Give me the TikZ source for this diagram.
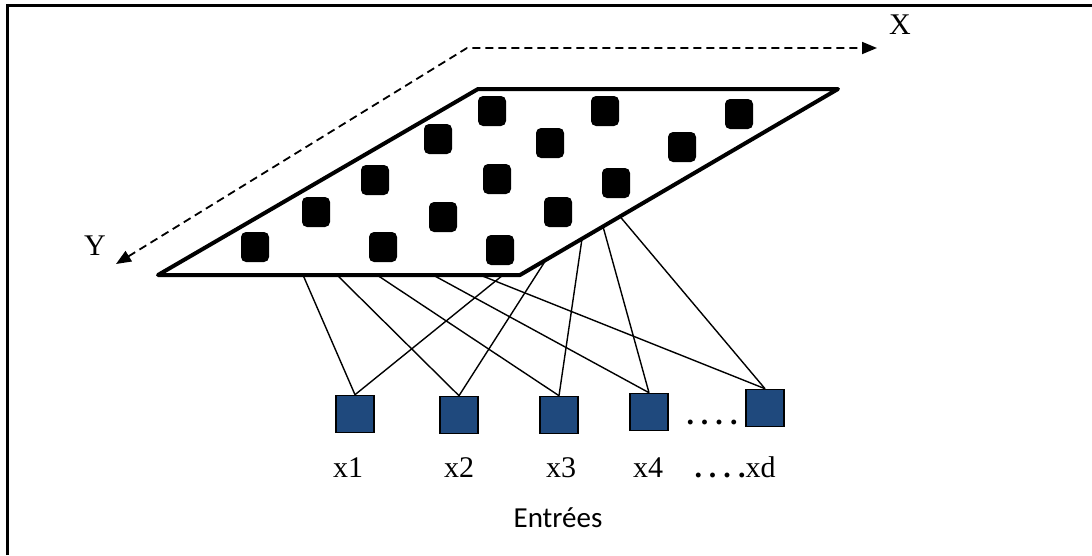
\documentclass[tikz,border=0pt]{standalone}
\usepackage{fontspec}
\setmainfont{Liberation Serif}
\newfontfamily\entreefont{Carlito}
\usetikzlibrary{arrows.meta}
\definecolor{darkblue}{RGB}{31, 73, 125}

\newcommand{\pointilles}{\textbf{.\kern7pt.\kern7pt.\kern7pt.}}

\begin{document}
\begin{tikzpicture}[x=1pt,y=-1pt,
        neuron/.style={fill=black, rounded corners=5pt, minimum width=28pt, minimum height=30pt, inner sep=0pt},
        entree/.style={draw=black, line width=1.6pt, fill=darkblue, minimum width=38pt, minimum height=37pt, inner sep=0pt},
        lbl/.style={font=\fontsize{30}{34}\selectfont, inner sep=0pt, anchor=base},
        link/.style={line width=1.4pt},
        axe/.style={line width=1.8pt, dash pattern=on 8pt off 5pt,
            {Triangle[length=15pt,width=12pt]}-{Triangle[length=15pt,width=12pt]}}]
    \useasboundingbox (0,0) rectangle (1092,555);

    % frame
    \draw[line width=3pt] (7,555) -- (7,5) -- (1092,5);

    % axes of the map
    \draw[axe] (116,264) -- (467,48) -- (877,48);
    \node[lbl, anchor=center] (X) at (900,25) {X};
    \node[lbl, anchor=center] (Y) at (95,246) {Y};

    % the map
    \draw[line width=4pt, fill=white, line join=round] (158,275) -- (520,275) -- (838,89) -- (478,89) -- cycle;

    \node[neuron] (n1) at (255,247) {};
    \node[neuron] (n2) at (316,212) {};
    \node[neuron] (n3) at (375,180) {};
    \node[neuron] (n4) at (438,139) {};
    \node[neuron] (n5) at (492,111) {};
    \node[neuron] (n6) at (383,247) {};
    \node[neuron] (n7) at (443,217) {};
    \node[neuron] (n8) at (497,179) {};
    \node[neuron] (n9) at (550,143) {};
    \node[neuron] (n10) at (605,111) {};
    \node[neuron] (n11) at (500,250) {};
    \node[neuron] (n12) at (558,212) {};
    \node[neuron] (n13) at (616,183) {};
    \node[neuron] (n14) at (682,147) {};
    \node[neuron] (n15) at (739,114) {};

    % inputs
    \node[entree] (e1) at (355,414) {};
    \node[entree] (e2) at (459,415) {};
    \node[entree] (e3) at (559,415) {};
    \node[entree] (e4) at (649,412) {};
    \node[entree] (ed) at (765,408) {};
    \node[lbl] (dots) at (712,424) {\pointilles};

    \node[lbl] (l1) at (348,477) {x1};
    \node[lbl] (l2) at (459,477) {x2};
    \node[lbl] (l3) at (561,477) {x3};
    \node[lbl] (l4) at (648,477) {x4};
    \node[lbl] (ld) at (735,477) {\pointilles xd};
    \node[lbl, font=\entreefont\fontsize{29}{34}\selectfont] (entrees) at (558,527) {Entrées};

    % links from the map to the inputs
    \coordinate (b1) at (303,275);
    \coordinate (b2) at (337,275);
    \coordinate (b3) at (377,275);
    \coordinate (b4) at (433,275);
    \coordinate (b5) at (480,275);
    \coordinate (b6) at (503,275);
    \coordinate (r1) at (546,259.8);
    \coordinate (r2) at (582,238.7);
    \coordinate (r3) at (603,226.5);
    \coordinate (r4) at (620,216.5);

    \draw[link] (b1) -- (e1.north);
    \draw[link] (b6) -- (e1.north);
    \draw[link] (b2) -- (e2.north);
    \draw[link] (r1) -- (e2.north);
    \draw[link] (b3) -- (e3.north);
    \draw[link] (r2) -- (e3.north);
    \draw[link] (b4) -- (e4.north);
    \draw[link] (r3) -- (e4.north);
    \draw[link] (b5) -- (ed.north);
    \draw[link] (r4) -- (ed.north);
\end{tikzpicture}
\end{document}
